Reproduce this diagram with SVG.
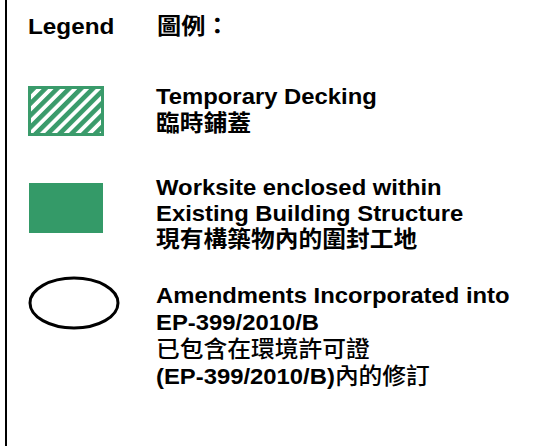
<svg xmlns="http://www.w3.org/2000/svg" width="551" height="446" viewBox="0 0 551 446">
<defs>
<style>
.en{font-family:"Liberation Sans",Arial,"Noto Sans CJK TC",sans-serif;font-weight:bold;font-size:22.5px;fill:#000}
.cjkb{font-family:"Noto Sans CJK TC","Noto Sans CJK SC",sans-serif;font-weight:bold;font-size:22.4px;fill:#000}
.cjk{font-family:"Noto Sans CJK TC","Noto Sans CJK SC",sans-serif;font-weight:500;font-size:22.4px;fill:#000}
.green{fill:#349a68}
</style>
<pattern id="hatch" patternUnits="userSpaceOnUse" width="8.4" height="8.4" patternTransform="rotate(45)">
<rect x="0" y="0" width="8.4" height="8.4" fill="#fff"/>
<rect x="0" y="0" width="4.6" height="8.4" fill="#3a9b6b"/>
</pattern>
</defs>
<rect x="0" y="0" width="551" height="446" fill="#fff"/>
<line x1="6" y1="0" x2="6" y2="446" stroke="#000" stroke-width="2"/>
<g id="title">
<g transform="translate(28 0) scale(1.08 1)">
<text class="en" x="0" y="34" font-size="25">Legend</text>
</g>
<g transform="translate(157 0) scale(1.08 1)">
<text class="cjkb" x="0" y="34" font-size="23">圖例：</text>
</g>
</g>
<g id="temporary-decking">
<rect x="29.5" y="87.5" width="73" height="47" fill="url(#hatch)" stroke="#3a9b6b" stroke-width="3"/>
<g transform="translate(156 0) scale(1.06 1)">
<text class="en" x="0" y="104">Temporary Decking</text>
<text class="cjkb" x="0" y="131">臨時鋪蓋</text>
</g>
</g>
<g id="worksite">
<rect x="29" y="183" width="74" height="50" class="green"/>
<g transform="translate(156 0) scale(1.06 1)">
<text class="en" x="0" y="195">Worksite enclosed within</text>
<text class="en" x="0" y="221">Existing Building Structure</text>
<text class="cjkb" x="0" y="247">現有構築物內的圍封工地</text>
</g>
</g>
<g id="amendments">
<ellipse cx="74" cy="303" rx="44" ry="25" fill="none" stroke="#000" stroke-width="3"/>
<g transform="translate(156 0) scale(1.06 1)">
<text class="en" x="0" y="303">Amendments Incorporated into</text>
<text class="en" x="0" y="330">EP-399/2010/B</text>
<text class="cjk" x="0" y="357">已包含在環境許可證</text>
<text x="0" y="384"><tspan class="en">(EP-399/2010/B)</tspan><tspan class="cjk">內的修訂</tspan></text>
</g>
</g>
<g id="connectors"></g>
</svg>
